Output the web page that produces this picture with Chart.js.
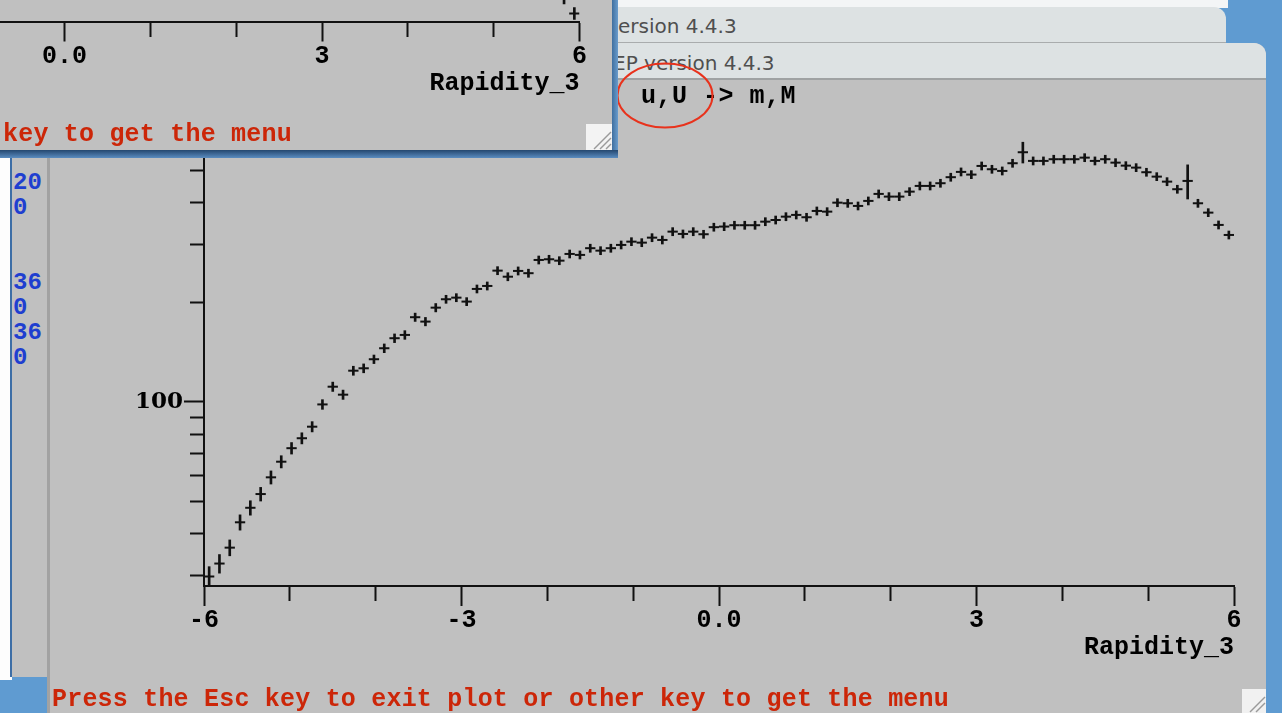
<!DOCTYPE html>
<html>
<head>
<meta charset="utf-8">
<script src="https://cdn.jsdelivr.net/npm/chart.js@4.4.0/dist/chart.umd.min.js"></script>
<style>
html,body{margin:0;padding:0;}
body{width:1282px;height:713px;position:relative;overflow:hidden;background:#5f9bd1;}
.abs{position:absolute;}
.mono{font-family:'Liberation Mono',monospace;font-weight:bold;font-size:25px;line-height:30px;white-space:pre;letter-spacing:0.2px;}
.red{color:#cc2608;}
.title{font-family:'DejaVu Sans',sans-serif;font-size:20px;line-height:26px;color:#4f4f4f;white-space:pre;}
.blue{font-family:'Liberation Mono',monospace;font-weight:bold;font-size:24px;line-height:25px;color:#1f3fd0;white-space:pre;}
</style>
</head>
<body>
<!-- desktop pieces behind windows -->
<div class="abs" style="left:560px;top:0;width:668px;height:8px;background:#f3f5f6"></div>
<div class="abs" style="left:0;top:140px;width:12px;height:540px;background:#fdfdfd"></div>
<div class="abs" style="left:10px;top:130px;width:40px;height:547px;background:#c0c0c0;border-left:2px solid #3d6ea6;box-sizing:border-box"></div>
<div class="abs blue" style="left:13px;top:170px">20
0


36
0
36
0</div>

<!-- window behind: title bar -->
<div class="abs" style="left:560px;top:7px;width:666px;height:37px;background:#dde2e3;border-top-right-radius:12px;border-bottom:2px solid #a9acad;box-sizing:border-box"></div>
<div class="abs title" style="left:618px;top:13px">ersion 4.4.3</div>

<!-- main window -->
<div class="abs" style="left:47px;top:43px;width:1219px;height:670px;background:#c0c0c0;border-top-right-radius:12px;overflow:hidden;border-left:3px solid #a2a2a2;box-sizing:border-box">
  <div style="height:37px;background:#dde2e3;border-bottom:2px solid #9fa2a3;box-sizing:border-box"></div>
</div>
<div class="abs title" style="left:613px;top:50px">EP version 4.4.3</div>

<canvas id="mainChart" class="abs" width="1282" height="713" style="left:0;top:0"></canvas>

<div class="abs mono" style="left:641px;top:82px;letter-spacing:0.5px">u,U -&gt; m,M</div>
<div class="abs mono red" style="left:52px;top:685px">Press the Esc key to exit plot or other key to get the menu</div>

<svg class="abs" style="left:0;top:0" width="1282" height="713">
  <rect x="1242" y="689" width="24" height="24" fill="#f1f1f1"/>
  <line x1="1250" y1="712" x2="1265" y2="697" stroke="#9a9a9a" stroke-width="1.5"/>
  <line x1="1256" y1="712" x2="1265" y2="703" stroke="#9a9a9a" stroke-width="1.5"/>
  <ellipse cx="665" cy="95.5" rx="47.5" ry="32" fill="none" stroke="#e8321c" stroke-width="2"/>
</svg>

<!-- inset window (top-left) -->
<div class="abs" style="left:0;top:0;width:612px;height:150px;background:#c0c0c0;overflow:hidden">
  <canvas id="insetChart" width="1130" height="260" style="position:absolute;left:-500px;top:-100px"></canvas>
  <div class="abs mono red" style="left:3px;top:120px">key to get the menu</div>
  <svg class="abs" style="left:586px;top:124px" width="26" height="26">
    <rect x="0" y="0" width="26" height="26" fill="#f3f3f3"/>
    <line x1="8" y1="25" x2="25" y2="8" stroke="#9a9a9a" stroke-width="1.5"/>
    <line x1="14" y1="25" x2="25" y2="14" stroke="#9a9a9a" stroke-width="1.5"/>
    <line x1="20" y1="25" x2="25" y2="20" stroke="#9a9a9a" stroke-width="1.5"/>
  </svg>
</div>
<div class="abs" style="left:612px;top:0;width:6px;height:158px;background:linear-gradient(to right,#3f6f9f,#6a9ccc)"></div>
<div class="abs" style="left:0;top:150px;width:618px;height:8px;background:linear-gradient(to bottom,#24476f,#5a8cc0)"></div>

<script>
// ---------------- data ----------------
const binLow = -6;
const binHigh = 6;
const nBins = 100;

const counts = [
  29.7, 32.5, 36.3, 43.3, 47.9, 52.7, 59.2, 66.0, 72.5, 77.7,
  84.2, 98.3, 111.2, 105.2, 124.3, 126.4, 134.6, 145.3, 155.8, 159.4,
  180.3, 174.9, 192.7, 204.3, 206.6, 201.0, 219.5, 224.1, 249.3, 239.0,
  248.8, 244.9, 268.5, 269.8, 267.2, 280.0, 278.1, 291.4, 286.5, 291.4,
  298.1, 305.0, 302.9, 313.6, 308.6, 327.0, 321.8, 327.0, 321.1, 337.3,
  338.7, 341.9, 341.9, 341.9, 350.5, 354.6, 362.9, 367.3, 361.4, 377.6,
  375.8, 400.0, 398.3, 391.0, 404.9, 425.1, 417.2, 417.2, 431.9, 449.4,
  449.4, 457.9, 477.5, 495.4, 486.2, 516.4, 504.7, 498.8, 526.2, 568.0,
  534.8, 534.8, 541.1, 541.1, 541.1, 547.1, 534.8, 541.1, 528.4, 517.5,
  510.4, 494.3, 479.4, 463.0, 439.2, 465.3, 398.3, 373.2, 342.6, 319.5
];

const errors = [
  2.1, 2.1, 2.0, 2.3, 2.4, 2.5, 2.7, 2.8, 2.9, 3.0,
  3.0, 3.3, 3.6, 3.4, 3.9, 3.9, 4.0, 4.4, 4.7, 4.8,
  5.2, 5.1, 5.6, 5.7, 5.8, 5.6, 6.1, 6.3, 7.0, 6.7,
  7.0, 6.9, 7.5, 7.6, 7.5, 7.8, 7.8, 8.2, 8.0, 8.2,
  8.3, 8.5, 8.5, 8.8, 8.6, 9.2, 9.0, 9.2, 9.0, 9.4,
  9.5, 9.6, 9.6, 9.6, 9.8, 9.9, 10.2, 10.3, 10.1, 10.6,
  10.5, 11.2, 11.2, 10.9, 11.3, 11.9, 11.7, 11.7, 12.1, 12.6,
  12.6, 12.8, 13.4, 13.9, 13.6, 14.5, 14.1, 14.0, 14.7, 41.0,
  15.0, 15.0, 15.2, 15.2, 15.2, 15.3, 15.0, 15.2, 14.8, 14.5,
  14.3, 13.8, 13.4, 13.0, 12.3, 55.0, 11.2, 10.4, 9.6, 8.9
];

const xTickValues = [-6, -5, -4, -3, -2, -1, 0, 1, 2, 3, 4, 5, 6];
const xTickLabels = { '-6': '-6', '-3': '-3', '0': '0.0', '3': '3', '6': '6' };
const xMajorTicks = [-6, -3, 0, 3, 6];
const yTickValues = [30, 40, 50, 60, 70, 80, 90, 100, 200, 300, 400, 500, 600, 700];
const yTickLabels = { '100': '100' };
const yMajorTicks = [100];
const xTitle = 'Rapidity_3';

// inset (partially visible plot in the top-left window)
const insetCenters = [5.82, 5.94];
const insetValues = [25.5, 8.0];
const insetErrors = [8.0, 6.0];

// ---------------- chart building ----------------
const binWidth = (binHigh - binLow) / nBins;
const binCenters = counts.map((_, i) => binLow + (i + 0.5) * binWidth);

const monoFont = { family: "'Liberation Mono', monospace", size: 25, weight: 'bold' };
const ink = '#111';

function xScaleOptions() {
  return {
    type: 'linear', min: binLow, max: binHigh, offset: false,
    afterBuildTicks: s => { s.ticks = xTickValues.map(v => ({ value: v })); },
    afterFit: s => { s.height = 77; },
    grid: {
      drawOnChartArea: false, offset: false, tickLength: 20, tickWidth: 2, tickColor: ink,
      tickBorderDash: c => (c.tick && xMajorTicks.includes(c.tick.value)) ? [] : [14, 100]
    },
    border: { display: true, color: ink, width: 2 },
    ticks: { autoSkip: false, maxRotation: 0, minRotation: 0, padding: 0, color: '#000', font: monoFont,
             callback: v => (xTickLabels[String(v)] !== undefined ? xTickLabels[String(v)] : '') },
    title: { display: true, text: xTitle, align: 'end', color: '#000', font: monoFont, padding: { top: 0, bottom: 0 } }
  };
}

function datasetsFor(xs, vals, errs) {
  return [
    { type: 'bar', data: xs.map((x, i) => ({ x: x, y: [vals[i] - errs[i], vals[i] + errs[i]] })),
      backgroundColor: ink, borderWidth: 0, barThickness: 2, grouped: false, order: 2 },
    { type: 'scatter', data: xs.map((x, i) => ({ x: x, y: vals[i] })),
      pointStyle: 'line', pointRadius: 5.15, pointBorderWidth: 2, borderColor: ink, backgroundColor: ink,
      showLine: false, order: 1 }
  ];
}

new Chart(document.getElementById('mainChart'), {
  type: 'bar',
  data: { datasets: datasetsFor(binCenters, counts, errors) },
  options: {
    responsive: false, animation: false, events: [],
    layout: { padding: { left: 124, right: 48, top: 110, bottom: 50 } },
    plugins: { legend: { display: false }, tooltip: { enabled: false } },
    scales: {
      x: xScaleOptions(),
      y: {
        type: 'logarithmic', min: 27.8, max: 762,
        afterBuildTicks: s => { s.ticks = yTickValues.map(v => ({ value: v })); },
        afterFit: s => { s.width = 80; },
        grid: {
          drawOnChartArea: false, tickLength: 20, tickWidth: 2, tickColor: ink,
          tickBorderDash: c => (c.tick && yMajorTicks.includes(c.tick.value)) ? [] : [0, 6, 14, 100]
        },
        border: { display: true, color: ink, width: 2 },
        ticks: { autoSkip: false, padding: 1, color: '#000',
                 font: { family: "'DejaVu Serif', serif", size: 23, weight: 'bold' },
                 callback: v => (yTickLabels[String(v)] !== undefined ? yTickLabels[String(v)] : '') }
      }
    }
  }
});

new Chart(document.getElementById('insetChart'), {
  type: 'bar',
  data: { datasets: datasetsFor(insetCenters, insetValues, insetErrors) },
  options: {
    responsive: false, animation: false, events: [],
    layout: { padding: { left: 49.5, right: 50.5, top: 21.5, bottom: 61.5 } },
    plugins: { legend: { display: false }, tooltip: { enabled: false } },
    scales: {
      x: xScaleOptions(),
      y: { type: 'linear', min: 0, max: 100, display: false }
    }
  }
});
</script>
</body>
</html>
